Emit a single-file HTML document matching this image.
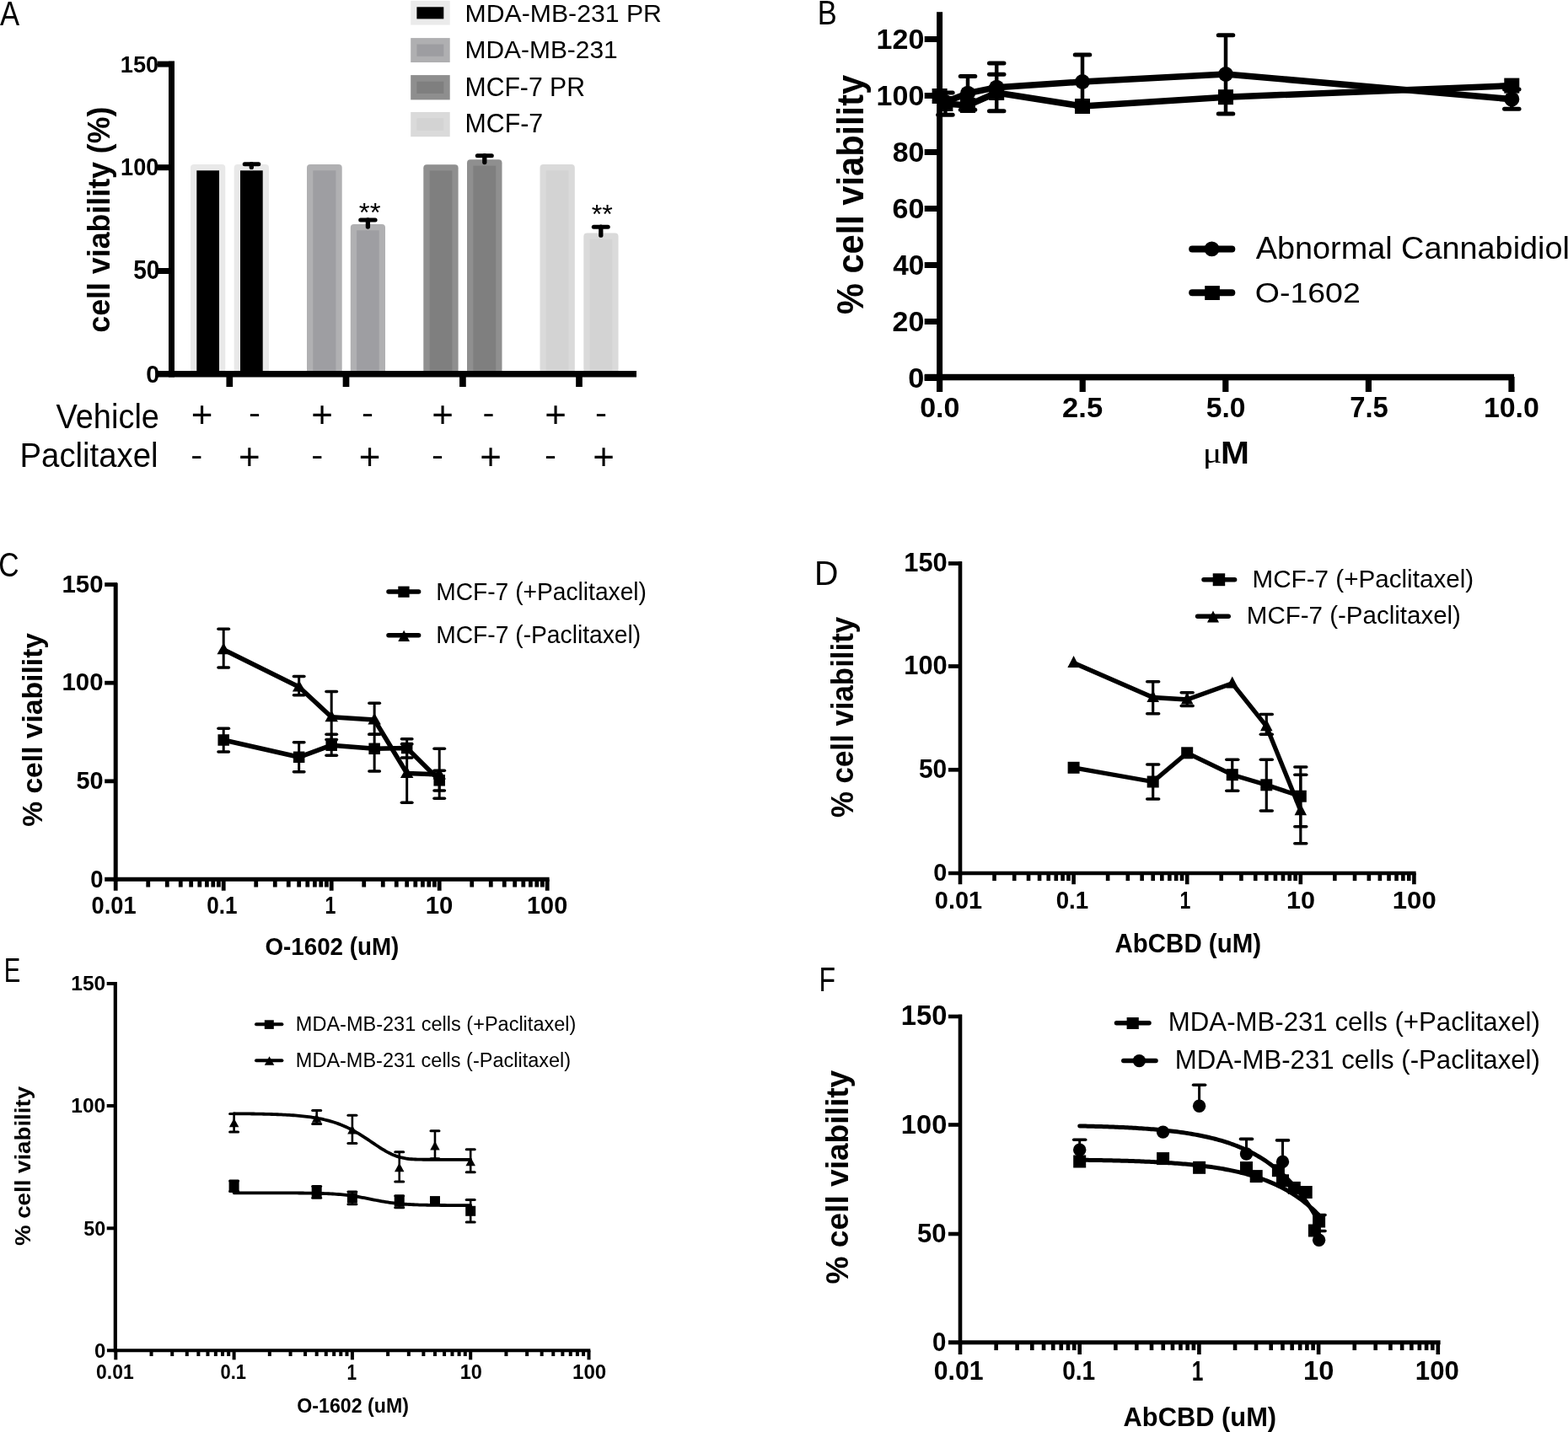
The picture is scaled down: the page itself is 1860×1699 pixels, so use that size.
<!DOCTYPE html>
<html><head><meta charset="utf-8"><title>Figure</title>
<style>html,body{margin:0;padding:0;background:#fff;}svg{display:block;}</style></head>
<body><svg width="1860" height="1699" viewBox="0 0 1860 1699">
<rect width="1860" height="1699" fill="#fff"/>
<text transform="translate(-0.09,30.1) scale(0.8555,1)" font-family="'Liberation Sans', Arial, sans-serif" font-weight="normal" font-size="40.58">A</text>
<rect x="487.2" y="0.9" width="46.5" height="28.7" fill="#ebebeb"/>
<rect x="494.4" y="8.3" width="31.9" height="14.1" fill="#000"/>
<rect x="487.2" y="45.1" width="46.5" height="28.9" fill="#afafb1"/>
<rect x="494.4" y="52.5" width="31.9" height="14.3" fill="#9d9da1"/>
<rect x="487.2" y="89.1" width="46.5" height="29.3" fill="#8e8e8e"/>
<rect x="494.4" y="96.7" width="31.9" height="14.3" fill="#7f7f7f"/>
<rect x="487.2" y="133" width="46.5" height="29.2" fill="#dadada"/>
<rect x="494.4" y="140.2" width="31.9" height="14.6" fill="#d3d3d3"/>
<text transform="translate(551.5,25.5) scale(1.0045,1)" font-family="'Liberation Sans', Arial, sans-serif" font-weight="normal" font-size="30.11">MDA-MB-231 PR</text>
<text transform="translate(551.53,69.3) scale(0.9987,1)" font-family="'Liberation Sans', Arial, sans-serif" font-weight="normal" font-size="29.96">MDA-MB-231</text>
<text transform="translate(551.51,113.6) scale(0.9780,1)" font-family="'Liberation Sans', Arial, sans-serif" font-weight="normal" font-size="30.84">MCF-7 PR</text>
<text transform="translate(551.5,157.4) scale(0.9925,1)" font-family="'Liberation Sans', Arial, sans-serif" font-weight="normal" font-size="30.55">MCF-7</text>
<path d="M226 441 L226 199 Q226 195 230 195 L263.3 195 Q267.3 195 267.3 199 L267.3 441 Z" fill="#e9e9e9"/>
<rect x="233.3" y="202.3" width="26.7" height="238.7" fill="#000"/>
<path d="M277.7 441 L277.7 199 Q277.7 195 281.7 195 L315 195 Q319 195 319 199 L319 441 Z" fill="#e9e9e9"/>
<rect x="285" y="202.3" width="26.7" height="238.7" fill="#000"/>
<path d="M364 441 L364 199 Q364 195 368 195 L401.7 195 Q405.7 195 405.7 199 L405.7 441 Z" fill="#b0b0b2"/>
<rect x="371.3" y="202.3" width="27.1" height="238.7" fill="#9e9ea2"/>
<path d="M415.8 441 L415.8 270 Q415.8 266 419.8 266 L453 266 Q457 266 457 270 L457 441 Z" fill="#b0b0b2"/>
<rect x="423.1" y="273.3" width="26.6" height="167.7" fill="#9e9ea2"/>
<path d="M502.3 441 L502.3 199.2 Q502.3 195.2 506.3 195.2 L539.6 195.2 Q543.6 195.2 543.6 199.2 L543.6 441 Z" fill="#8f8f8f"/>
<rect x="509.6" y="202.5" width="26.7" height="238.5" fill="#7f7f7f"/>
<path d="M554 441 L554 193.3 Q554 189.3 558 189.3 L591.5 189.3 Q595.5 189.3 595.5 193.3 L595.5 441 Z" fill="#8f8f8f"/>
<rect x="561.3" y="196.6" width="26.9" height="244.4" fill="#7f7f7f"/>
<path d="M640.5 441 L640.5 199 Q640.5 195 644.5 195 L677.8 195 Q681.8 195 681.8 199 L681.8 441 Z" fill="#dadada"/>
<rect x="647.8" y="202.3" width="26.7" height="238.7" fill="#d3d3d3"/>
<path d="M692.3 441 L692.3 280.5 Q692.3 276.5 696.3 276.5 L729.5 276.5 Q733.5 276.5 733.5 280.5 L733.5 441 Z" fill="#dadada"/>
<rect x="699.6" y="283.8" width="26.6" height="157.2" fill="#d3d3d3"/>
<line x1="298.3" y1="194.7" x2="298.3" y2="198.4" stroke="#000" stroke-width="5.3" stroke-linecap="round"/>
<line x1="290.2" y1="194.7" x2="306.8" y2="194.7" stroke="#000" stroke-width="5" stroke-linecap="round"/>
<line x1="436.4" y1="261" x2="436.4" y2="269.1" stroke="#000" stroke-width="5.3" stroke-linecap="round"/>
<line x1="427.7" y1="261" x2="445.1" y2="261" stroke="#000" stroke-width="5" stroke-linecap="round"/>
<line x1="574.8" y1="184.7" x2="574.8" y2="192.6" stroke="#000" stroke-width="5.3" stroke-linecap="round"/>
<line x1="566.3" y1="184.7" x2="583.3" y2="184.7" stroke="#000" stroke-width="5" stroke-linecap="round"/>
<line x1="712.8" y1="269.2" x2="712.8" y2="279.2" stroke="#000" stroke-width="5.3" stroke-linecap="round"/>
<line x1="704.3" y1="269.2" x2="721.2" y2="269.2" stroke="#000" stroke-width="5" stroke-linecap="round"/>
<text transform="translate(425.82,262.71) scale(1.0603,1)" font-family="'Liberation Sans', Arial, sans-serif" font-weight="normal" font-size="31.14">**</text>
<text transform="translate(701.64,264.7) scale(1.0067,1)" font-family="'Liberation Sans', Arial, sans-serif" font-weight="normal" font-size="32">**</text>
<rect x="200" y="72.7" width="7" height="374.8" fill="#000"/>
<rect x="187" y="72.6" width="20" height="7" fill="#000"/>
<rect x="187" y="195.2" width="20" height="7" fill="#000"/>
<rect x="187" y="318" width="20" height="7" fill="#000"/>
<rect x="187" y="440" width="568" height="7.5" fill="#000"/>
<rect x="268.45" y="447" width="7.7" height="12" fill="#000"/>
<rect x="406.65" y="447" width="7.7" height="12" fill="#000"/>
<rect x="545.05" y="447" width="7.7" height="12" fill="#000"/>
<rect x="683.15" y="447" width="7.7" height="12" fill="#000"/>
<text transform="translate(142.8,85.72) scale(0.9726,1)" font-family="'Liberation Sans', Arial, sans-serif" font-weight="bold" font-size="27.99">150</text>
<text transform="translate(143.11,208.41) scale(0.9396,1)" font-family="'Liberation Sans', Arial, sans-serif" font-weight="bold" font-size="28.83">100</text>
<text transform="translate(158.16,331.49) scale(0.9112,1)" font-family="'Liberation Sans', Arial, sans-serif" font-weight="bold" font-size="30.81">50</text>
<text transform="translate(173.35,453.9) scale(0.9625,1)" font-family="'Liberation Sans', Arial, sans-serif" font-weight="bold" font-size="29.96">0</text>
<text transform="translate(129.71,394.73) rotate(-90) scale(0.9776,1)" font-family="'Liberation Sans', Arial, sans-serif" font-weight="bold" font-size="36.57">cell viability (%)</text>
<text transform="translate(66.51,507.7) scale(0.9427,1)" font-family="'Liberation Sans', Arial, sans-serif" font-weight="normal" font-size="40.29">Vehicle</text>
<text transform="translate(23.54,554.3) scale(0.9548,1)" font-family="'Liberation Sans', Arial, sans-serif" font-weight="normal" font-size="40.15">Paclitaxel</text>
<text transform="translate(226.65,507.43) scale(0.9782,1)" font-family="'Liberation Sans', Arial, sans-serif" font-weight="normal" font-size="44.9">+</text>
<text transform="translate(295.01,502.36) scale(1.1241,1)" font-family="'Liberation Sans', Arial, sans-serif" font-weight="normal" font-size="37.42">-</text>
<text transform="translate(369.15,507.43) scale(0.9782,1)" font-family="'Liberation Sans', Arial, sans-serif" font-weight="normal" font-size="44.9">+</text>
<text transform="translate(429.01,502.36) scale(1.1241,1)" font-family="'Liberation Sans', Arial, sans-serif" font-weight="normal" font-size="37.42">-</text>
<text transform="translate(512.15,507.43) scale(0.9782,1)" font-family="'Liberation Sans', Arial, sans-serif" font-weight="normal" font-size="44.9">+</text>
<text transform="translate(572.51,502.36) scale(1.1241,1)" font-family="'Liberation Sans', Arial, sans-serif" font-weight="normal" font-size="37.42">-</text>
<text transform="translate(646.15,507.43) scale(0.9782,1)" font-family="'Liberation Sans', Arial, sans-serif" font-weight="normal" font-size="44.9">+</text>
<text transform="translate(706.01,502.36) scale(1.1241,1)" font-family="'Liberation Sans', Arial, sans-serif" font-weight="normal" font-size="37.42">-</text>
<text transform="translate(226.31,551.86) scale(1.1241,1)" font-family="'Liberation Sans', Arial, sans-serif" font-weight="normal" font-size="37.42">-</text>
<text transform="translate(283.05,556.89) scale(0.9871,1)" font-family="'Liberation Sans', Arial, sans-serif" font-weight="normal" font-size="44.49">+</text>
<text transform="translate(369.31,551.86) scale(1.1241,1)" font-family="'Liberation Sans', Arial, sans-serif" font-weight="normal" font-size="37.42">-</text>
<text transform="translate(425.65,556.89) scale(0.9871,1)" font-family="'Liberation Sans', Arial, sans-serif" font-weight="normal" font-size="44.49">+</text>
<text transform="translate(512.01,551.86) scale(1.1241,1)" font-family="'Liberation Sans', Arial, sans-serif" font-weight="normal" font-size="37.42">-</text>
<text transform="translate(569.15,556.89) scale(0.9871,1)" font-family="'Liberation Sans', Arial, sans-serif" font-weight="normal" font-size="44.49">+</text>
<text transform="translate(646.01,551.86) scale(1.1241,1)" font-family="'Liberation Sans', Arial, sans-serif" font-weight="normal" font-size="37.42">-</text>
<text transform="translate(703.15,556.89) scale(0.9871,1)" font-family="'Liberation Sans', Arial, sans-serif" font-weight="normal" font-size="44.49">+</text>
<text transform="translate(969.76,29.2) scale(0.8468,1)" font-family="'Liberation Sans', Arial, sans-serif" font-weight="normal" font-size="40.58">B</text>
<rect x="1111.1" y="14.2" width="7" height="437.1" fill="#000"/>
<rect x="1096.7" y="445" width="21.3" height="7" fill="#000"/>
<rect x="1096.7" y="378" width="21.3" height="7" fill="#000"/>
<rect x="1096.7" y="311" width="21.3" height="7" fill="#000"/>
<rect x="1096.7" y="244" width="21.3" height="7" fill="#000"/>
<rect x="1096.7" y="177" width="21.3" height="7" fill="#000"/>
<rect x="1096.7" y="110" width="21.3" height="7" fill="#000"/>
<rect x="1096.7" y="43" width="21.3" height="7" fill="#000"/>
<rect x="1096.7" y="443.8" width="699.3" height="7.5" fill="#000"/>
<rect x="1111" y="447" width="7.2" height="18" fill="#000"/>
<rect x="1280.6" y="447" width="7.2" height="18" fill="#000"/>
<rect x="1450.2" y="447" width="7.2" height="18" fill="#000"/>
<rect x="1619.8" y="447" width="7.2" height="18" fill="#000"/>
<rect x="1789.4" y="447" width="7.2" height="18" fill="#000"/>
<text transform="translate(1039.57,58.06) scale(1.0124,1)" font-family="'Liberation Sans', Arial, sans-serif" font-weight="bold" font-size="33.64">120</text>
<text transform="translate(1039.57,125.06) scale(1.0124,1)" font-family="'Liberation Sans', Arial, sans-serif" font-weight="bold" font-size="33.64">100</text>
<text transform="translate(1058.7,192.06) scale(1.0086,1)" font-family="'Liberation Sans', Arial, sans-serif" font-weight="bold" font-size="33.64">80</text>
<text transform="translate(1058.52,259.06) scale(1.0134,1)" font-family="'Liberation Sans', Arial, sans-serif" font-weight="bold" font-size="33.64">60</text>
<text transform="translate(1059.3,326.06) scale(0.9918,1)" font-family="'Liberation Sans', Arial, sans-serif" font-weight="bold" font-size="33.64">40</text>
<text transform="translate(1058.61,393.06) scale(1.0110,1)" font-family="'Liberation Sans', Arial, sans-serif" font-weight="bold" font-size="33.64">20</text>
<text transform="translate(1077.33,460.06) scale(1.0201,1)" font-family="'Liberation Sans', Arial, sans-serif" font-weight="bold" font-size="33.64">0</text>
<text transform="translate(1091.14,495.06) scale(1.0014,1)" font-family="'Liberation Sans', Arial, sans-serif" font-weight="bold" font-size="33.92">0.0</text>
<text transform="translate(1260.09,495.06) scale(1.0193,1)" font-family="'Liberation Sans', Arial, sans-serif" font-weight="bold" font-size="33.92">2.5</text>
<text transform="translate(1430.69,495.06) scale(0.9916,1)" font-family="'Liberation Sans', Arial, sans-serif" font-weight="bold" font-size="33.92">5.0</text>
<text transform="translate(1601.2,495.06) scale(0.9555,1)" font-family="'Liberation Sans', Arial, sans-serif" font-weight="bold" font-size="34.41">7.5</text>
<text transform="translate(1759.88,495.06) scale(1.0000,1)" font-family="'Liberation Sans', Arial, sans-serif" font-weight="bold" font-size="33.92">10.0</text>
<text transform="translate(1426.83,549.38) scale(1.2216,1)" font-family="'Liberation Serif', 'Times New Roman', serif" font-weight="normal" font-size="34.52">μ</text>
<text transform="translate(1448.05,550.3) scale(1.0850,1)" font-family="'Liberation Sans', Arial, sans-serif" font-weight="bold" font-size="37.53">M</text>
<text transform="translate(1023.65,373.04) rotate(-90) scale(0.9233,1)" font-family="'Liberation Sans', Arial, sans-serif" font-weight="bold" font-size="45.04">% cell viability</text>
<line x1="1121.4" y1="110" x2="1121.4" y2="136.3" stroke="#000" stroke-width="4.5" stroke-linecap="butt"/>
<line x1="1112.65" y1="110" x2="1130.15" y2="110" stroke="#000" stroke-width="5" stroke-linecap="round"/>
<line x1="1112.65" y1="136.3" x2="1130.15" y2="136.3" stroke="#000" stroke-width="5" stroke-linecap="round"/>
<line x1="1148" y1="90.4" x2="1148" y2="130.3" stroke="#000" stroke-width="4.5" stroke-linecap="butt"/>
<line x1="1139.25" y1="90.4" x2="1156.75" y2="90.4" stroke="#000" stroke-width="5" stroke-linecap="round"/>
<line x1="1139.25" y1="130.3" x2="1156.75" y2="130.3" stroke="#000" stroke-width="5" stroke-linecap="round"/>
<line x1="1182.2" y1="75" x2="1182.2" y2="131.7" stroke="#000" stroke-width="4.5" stroke-linecap="butt"/>
<line x1="1173.45" y1="75" x2="1190.95" y2="75" stroke="#000" stroke-width="5" stroke-linecap="round"/>
<line x1="1173.45" y1="131.7" x2="1190.95" y2="131.7" stroke="#000" stroke-width="5" stroke-linecap="round"/>
<line x1="1173.45" y1="88.3" x2="1190.95" y2="88.3" stroke="#000" stroke-width="5" stroke-linecap="round"/>
<line x1="1284" y1="65" x2="1284" y2="126" stroke="#000" stroke-width="4.5" stroke-linecap="butt"/>
<line x1="1275.25" y1="65" x2="1292.75" y2="65" stroke="#000" stroke-width="5" stroke-linecap="round"/>
<line x1="1275.25" y1="126" x2="1292.75" y2="126" stroke="#000" stroke-width="5" stroke-linecap="round"/>
<line x1="1454" y1="41.8" x2="1454" y2="135" stroke="#000" stroke-width="4.5" stroke-linecap="butt"/>
<line x1="1445.25" y1="41.8" x2="1462.75" y2="41.8" stroke="#000" stroke-width="5" stroke-linecap="round"/>
<line x1="1445.25" y1="135" x2="1462.75" y2="135" stroke="#000" stroke-width="5" stroke-linecap="round"/>
<line x1="1793.3" y1="106" x2="1793.3" y2="129.3" stroke="#000" stroke-width="4.5" stroke-linecap="butt"/>
<line x1="1784.55" y1="106" x2="1802.05" y2="106" stroke="#000" stroke-width="5" stroke-linecap="round"/>
<line x1="1784.55" y1="129.3" x2="1802.05" y2="129.3" stroke="#000" stroke-width="5" stroke-linecap="round"/>
<path d="M1114.6 114 L1121.4 121 L1148 110.7 L1182.2 103.7 L1284 97 L1454 88 L1793.3 117.7" fill="none" stroke="#000" stroke-width="7.5" stroke-linejoin="round" stroke-linecap="round"/>
<path d="M1114.6 114 L1121.4 123 L1148 125 L1182.2 110 L1284 126 L1454 115.2 L1793.3 101.6" fill="none" stroke="#000" stroke-width="7.5" stroke-linejoin="round" stroke-linecap="round"/>
<circle cx="1114.6" cy="114" r="9" fill="#000"/>
<circle cx="1121.4" cy="121" r="9" fill="#000"/>
<circle cx="1148" cy="110.7" r="9" fill="#000"/>
<circle cx="1182.2" cy="103.7" r="9" fill="#000"/>
<circle cx="1284" cy="97" r="9" fill="#000"/>
<circle cx="1454" cy="88" r="9" fill="#000"/>
<circle cx="1793.3" cy="117.7" r="9" fill="#000"/>
<rect x="1105.6" y="105" width="18" height="18" fill="#000"/>
<rect x="1112.4" y="114" width="18" height="18" fill="#000"/>
<rect x="1139" y="116" width="18" height="18" fill="#000"/>
<rect x="1173.2" y="101" width="18" height="18" fill="#000"/>
<rect x="1275" y="117" width="18" height="18" fill="#000"/>
<rect x="1445" y="106.2" width="18" height="18" fill="#000"/>
<rect x="1784.3" y="92.6" width="18" height="18" fill="#000"/>
<line x1="1414.2" y1="295.4" x2="1461.3" y2="295.4" stroke="#000" stroke-width="8" stroke-linecap="round"/>
<circle cx="1437.5" cy="295.4" r="8.9" fill="#000"/>
<line x1="1414.2" y1="347.2" x2="1461.3" y2="347.2" stroke="#000" stroke-width="8" stroke-linecap="round"/>
<rect x="1429.2" y="339.1" width="17.7" height="16.9" fill="#000"/>
<text transform="translate(1489.71,306.8) scale(1.0283,1)" font-family="'Liberation Sans', Arial, sans-serif" font-weight="normal" font-size="36.8">Abnormal Cannabidiol</text>
<text transform="translate(1488.82,358.96) scale(1.1138,1)" font-family="'Liberation Sans', Arial, sans-serif" font-weight="normal" font-size="33.64">O-1602</text>
<text transform="translate(-1.68,683.79) scale(0.8159,1)" font-family="'Liberation Sans', Arial, sans-serif" font-weight="normal" font-size="41.27">C</text>
<rect x="134.7" y="691.7" width="5" height="354.1" fill="#000"/>
<rect x="124.2" y="691.15" width="14.8" height="4.8" fill="#000"/>
<rect x="124.2" y="807.8" width="14.8" height="4.8" fill="#000"/>
<rect x="124.2" y="924.45" width="14.8" height="4.8" fill="#000"/>
<line x1="124.2" y1="1043.3" x2="651.6" y2="1043.3" stroke="#000" stroke-width="5" stroke-linecap="butt"/>
<line x1="137.2" y1="1043.3" x2="137.2" y2="1056.7" stroke="#000" stroke-width="4.8" stroke-linecap="butt"/>
<line x1="175.73" y1="1043.3" x2="175.73" y2="1052.5" stroke="#000" stroke-width="4.8" stroke-linecap="butt"/>
<line x1="198.27" y1="1043.3" x2="198.27" y2="1052.5" stroke="#000" stroke-width="4.8" stroke-linecap="butt"/>
<line x1="214.26" y1="1043.3" x2="214.26" y2="1052.5" stroke="#000" stroke-width="4.8" stroke-linecap="butt"/>
<line x1="226.67" y1="1043.3" x2="226.67" y2="1052.5" stroke="#000" stroke-width="4.8" stroke-linecap="butt"/>
<line x1="236.8" y1="1043.3" x2="236.8" y2="1052.5" stroke="#000" stroke-width="4.8" stroke-linecap="butt"/>
<line x1="245.37" y1="1043.3" x2="245.37" y2="1052.5" stroke="#000" stroke-width="4.8" stroke-linecap="butt"/>
<line x1="252.8" y1="1043.3" x2="252.8" y2="1052.5" stroke="#000" stroke-width="4.8" stroke-linecap="butt"/>
<line x1="259.34" y1="1043.3" x2="259.34" y2="1052.5" stroke="#000" stroke-width="4.8" stroke-linecap="butt"/>
<line x1="265.2" y1="1043.3" x2="265.2" y2="1056.7" stroke="#000" stroke-width="4.8" stroke-linecap="butt"/>
<line x1="303.73" y1="1043.3" x2="303.73" y2="1052.5" stroke="#000" stroke-width="4.8" stroke-linecap="butt"/>
<line x1="326.27" y1="1043.3" x2="326.27" y2="1052.5" stroke="#000" stroke-width="4.8" stroke-linecap="butt"/>
<line x1="342.26" y1="1043.3" x2="342.26" y2="1052.5" stroke="#000" stroke-width="4.8" stroke-linecap="butt"/>
<line x1="354.67" y1="1043.3" x2="354.67" y2="1052.5" stroke="#000" stroke-width="4.8" stroke-linecap="butt"/>
<line x1="364.8" y1="1043.3" x2="364.8" y2="1052.5" stroke="#000" stroke-width="4.8" stroke-linecap="butt"/>
<line x1="373.37" y1="1043.3" x2="373.37" y2="1052.5" stroke="#000" stroke-width="4.8" stroke-linecap="butt"/>
<line x1="380.8" y1="1043.3" x2="380.8" y2="1052.5" stroke="#000" stroke-width="4.8" stroke-linecap="butt"/>
<line x1="387.34" y1="1043.3" x2="387.34" y2="1052.5" stroke="#000" stroke-width="4.8" stroke-linecap="butt"/>
<line x1="393.2" y1="1043.3" x2="393.2" y2="1056.7" stroke="#000" stroke-width="4.8" stroke-linecap="butt"/>
<line x1="431.73" y1="1043.3" x2="431.73" y2="1052.5" stroke="#000" stroke-width="4.8" stroke-linecap="butt"/>
<line x1="454.27" y1="1043.3" x2="454.27" y2="1052.5" stroke="#000" stroke-width="4.8" stroke-linecap="butt"/>
<line x1="470.26" y1="1043.3" x2="470.26" y2="1052.5" stroke="#000" stroke-width="4.8" stroke-linecap="butt"/>
<line x1="482.67" y1="1043.3" x2="482.67" y2="1052.5" stroke="#000" stroke-width="4.8" stroke-linecap="butt"/>
<line x1="492.8" y1="1043.3" x2="492.8" y2="1052.5" stroke="#000" stroke-width="4.8" stroke-linecap="butt"/>
<line x1="501.37" y1="1043.3" x2="501.37" y2="1052.5" stroke="#000" stroke-width="4.8" stroke-linecap="butt"/>
<line x1="508.8" y1="1043.3" x2="508.8" y2="1052.5" stroke="#000" stroke-width="4.8" stroke-linecap="butt"/>
<line x1="515.34" y1="1043.3" x2="515.34" y2="1052.5" stroke="#000" stroke-width="4.8" stroke-linecap="butt"/>
<line x1="521.2" y1="1043.3" x2="521.2" y2="1056.7" stroke="#000" stroke-width="4.8" stroke-linecap="butt"/>
<line x1="559.73" y1="1043.3" x2="559.73" y2="1052.5" stroke="#000" stroke-width="4.8" stroke-linecap="butt"/>
<line x1="582.27" y1="1043.3" x2="582.27" y2="1052.5" stroke="#000" stroke-width="4.8" stroke-linecap="butt"/>
<line x1="598.26" y1="1043.3" x2="598.26" y2="1052.5" stroke="#000" stroke-width="4.8" stroke-linecap="butt"/>
<line x1="610.67" y1="1043.3" x2="610.67" y2="1052.5" stroke="#000" stroke-width="4.8" stroke-linecap="butt"/>
<line x1="620.8" y1="1043.3" x2="620.8" y2="1052.5" stroke="#000" stroke-width="4.8" stroke-linecap="butt"/>
<line x1="629.37" y1="1043.3" x2="629.37" y2="1052.5" stroke="#000" stroke-width="4.8" stroke-linecap="butt"/>
<line x1="636.8" y1="1043.3" x2="636.8" y2="1052.5" stroke="#000" stroke-width="4.8" stroke-linecap="butt"/>
<line x1="643.34" y1="1043.3" x2="643.34" y2="1052.5" stroke="#000" stroke-width="4.8" stroke-linecap="butt"/>
<line x1="649.2" y1="1043.3" x2="649.2" y2="1056.7" stroke="#000" stroke-width="4.8" stroke-linecap="butt"/>
<text transform="translate(73.46,703.01) scale(0.9998,1)" font-family="'Liberation Sans', Arial, sans-serif" font-weight="bold" font-size="29.4">150</text>
<text transform="translate(73.46,819.41) scale(1.0046,1)" font-family="'Liberation Sans', Arial, sans-serif" font-weight="bold" font-size="29.26">100</text>
<text transform="translate(90.43,936.01) scale(0.9955,1)" font-family="'Liberation Sans', Arial, sans-serif" font-weight="bold" font-size="28.98">50</text>
<text transform="translate(107.21,1052.7) scale(0.9091,1)" font-family="'Liberation Sans', Arial, sans-serif" font-weight="bold" font-size="30.11">0</text>
<text transform="translate(108.61,1083.91) scale(0.9302,1)" font-family="'Liberation Sans', Arial, sans-serif" font-weight="bold" font-size="29.26">0.01</text>
<text transform="translate(245.26,1083.91) scale(0.8916,1)" font-family="'Liberation Sans', Arial, sans-serif" font-weight="bold" font-size="29.26">0.1</text>
<text transform="translate(385.55,1084.2) scale(0.7714,1)" font-family="'Liberation Sans', Arial, sans-serif" font-weight="bold" font-size="30.11">1</text>
<text transform="translate(504.66,1083.91) scale(1.0042,1)" font-family="'Liberation Sans', Arial, sans-serif" font-weight="bold" font-size="29.26">10</text>
<text transform="translate(625.1,1083.91) scale(0.9850,1)" font-family="'Liberation Sans', Arial, sans-serif" font-weight="bold" font-size="29.26">100</text>
<text transform="translate(314.39,1132.8) scale(0.9551,1)" font-family="'Liberation Sans', Arial, sans-serif" font-weight="bold" font-size="29.09">O-1602 (uM)</text>
<text transform="translate(50.45,980.84) rotate(-90) scale(0.9899,1)" font-family="'Liberation Sans', Arial, sans-serif" font-weight="bold" font-size="33.99">% cell viability</text>
<line x1="265.2" y1="746.3" x2="265.2" y2="792" stroke="#000" stroke-width="3" stroke-linecap="butt"/>
<line x1="259" y1="746.3" x2="271.4" y2="746.3" stroke="#000" stroke-width="3.6" stroke-linecap="round"/>
<line x1="259" y1="792" x2="271.4" y2="792" stroke="#000" stroke-width="3.6" stroke-linecap="round"/>
<line x1="354.67" y1="802.5" x2="354.67" y2="824.7" stroke="#000" stroke-width="3" stroke-linecap="butt"/>
<line x1="348.47" y1="802.5" x2="360.87" y2="802.5" stroke="#000" stroke-width="3.6" stroke-linecap="round"/>
<line x1="348.47" y1="824.7" x2="360.87" y2="824.7" stroke="#000" stroke-width="3.6" stroke-linecap="round"/>
<line x1="393.2" y1="820.5" x2="393.2" y2="877.5" stroke="#000" stroke-width="3" stroke-linecap="butt"/>
<line x1="387" y1="820.5" x2="399.4" y2="820.5" stroke="#000" stroke-width="3.6" stroke-linecap="round"/>
<line x1="387" y1="877.5" x2="399.4" y2="877.5" stroke="#000" stroke-width="3.6" stroke-linecap="round"/>
<line x1="444.14" y1="834.2" x2="444.14" y2="871.3" stroke="#000" stroke-width="3" stroke-linecap="butt"/>
<line x1="437.94" y1="834.2" x2="450.34" y2="834.2" stroke="#000" stroke-width="3.6" stroke-linecap="round"/>
<line x1="437.94" y1="871.3" x2="450.34" y2="871.3" stroke="#000" stroke-width="3.6" stroke-linecap="round"/>
<line x1="482.67" y1="882.8" x2="482.67" y2="952.2" stroke="#000" stroke-width="3" stroke-linecap="butt"/>
<line x1="476.47" y1="882.8" x2="488.87" y2="882.8" stroke="#000" stroke-width="3.6" stroke-linecap="round"/>
<line x1="476.47" y1="952.2" x2="488.87" y2="952.2" stroke="#000" stroke-width="3.6" stroke-linecap="round"/>
<line x1="521.2" y1="888.3" x2="521.2" y2="947.2" stroke="#000" stroke-width="3" stroke-linecap="butt"/>
<line x1="515" y1="888.3" x2="527.4" y2="888.3" stroke="#000" stroke-width="3.6" stroke-linecap="round"/>
<line x1="515" y1="947.2" x2="527.4" y2="947.2" stroke="#000" stroke-width="3.6" stroke-linecap="round"/>
<line x1="265.2" y1="864.2" x2="265.2" y2="892" stroke="#000" stroke-width="3" stroke-linecap="butt"/>
<line x1="259" y1="864.2" x2="271.4" y2="864.2" stroke="#000" stroke-width="3.6" stroke-linecap="round"/>
<line x1="259" y1="892" x2="271.4" y2="892" stroke="#000" stroke-width="3.6" stroke-linecap="round"/>
<line x1="354.67" y1="880.8" x2="354.67" y2="915.8" stroke="#000" stroke-width="3" stroke-linecap="butt"/>
<line x1="348.47" y1="880.8" x2="360.87" y2="880.8" stroke="#000" stroke-width="3.6" stroke-linecap="round"/>
<line x1="348.47" y1="915.8" x2="360.87" y2="915.8" stroke="#000" stroke-width="3.6" stroke-linecap="round"/>
<line x1="393.2" y1="871.3" x2="393.2" y2="896.3" stroke="#000" stroke-width="3" stroke-linecap="butt"/>
<line x1="387" y1="871.3" x2="399.4" y2="871.3" stroke="#000" stroke-width="3.6" stroke-linecap="round"/>
<line x1="387" y1="896.3" x2="399.4" y2="896.3" stroke="#000" stroke-width="3.6" stroke-linecap="round"/>
<line x1="444.14" y1="871.3" x2="444.14" y2="915" stroke="#000" stroke-width="3" stroke-linecap="butt"/>
<line x1="437.94" y1="871.3" x2="450.34" y2="871.3" stroke="#000" stroke-width="3.6" stroke-linecap="round"/>
<line x1="437.94" y1="915" x2="450.34" y2="915" stroke="#000" stroke-width="3.6" stroke-linecap="round"/>
<line x1="482.67" y1="876.7" x2="482.67" y2="899" stroke="#000" stroke-width="3" stroke-linecap="butt"/>
<line x1="476.47" y1="876.7" x2="488.87" y2="876.7" stroke="#000" stroke-width="3.6" stroke-linecap="round"/>
<line x1="476.47" y1="899" x2="488.87" y2="899" stroke="#000" stroke-width="3.6" stroke-linecap="round"/>
<line x1="521.2" y1="914.2" x2="521.2" y2="938" stroke="#000" stroke-width="3" stroke-linecap="butt"/>
<line x1="515" y1="914.2" x2="527.4" y2="914.2" stroke="#000" stroke-width="3.6" stroke-linecap="round"/>
<line x1="515" y1="938" x2="527.4" y2="938" stroke="#000" stroke-width="3.6" stroke-linecap="round"/>
<path d="M265.2 770.8 L354.67 815 L393.2 850.8 L444.14 854 L482.67 917.5 L521.2 919" fill="none" stroke="#000" stroke-width="5.5" stroke-linejoin="round" stroke-linecap="round"/>
<path d="M265.2 878 L354.67 898.3 L393.2 884.2 L444.14 888.3 L482.67 887.5 L521.2 925.8" fill="none" stroke="#000" stroke-width="5.5" stroke-linejoin="round" stroke-linecap="round"/>
<path d="M265.2 762.7 L272.95 776.2 L257.45 776.2 Z" fill="#000"/>
<path d="M354.67 806.9 L362.42 820.4 L346.92 820.4 Z" fill="#000"/>
<path d="M393.2 842.7 L400.95 856.2 L385.45 856.2 Z" fill="#000"/>
<path d="M444.14 845.9 L451.89 859.4 L436.39 859.4 Z" fill="#000"/>
<path d="M482.67 909.4 L490.42 922.9 L474.92 922.9 Z" fill="#000"/>
<path d="M521.2 910.9 L528.95 924.4 L513.45 924.4 Z" fill="#000"/>
<rect x="258.45" y="871.25" width="13.5" height="13.5" fill="#000"/>
<rect x="347.92" y="891.55" width="13.5" height="13.5" fill="#000"/>
<rect x="386.45" y="877.45" width="13.5" height="13.5" fill="#000"/>
<rect x="437.39" y="881.55" width="13.5" height="13.5" fill="#000"/>
<rect x="475.92" y="880.75" width="13.5" height="13.5" fill="#000"/>
<rect x="514.45" y="919.05" width="13.5" height="13.5" fill="#000"/>
<line x1="461" y1="702" x2="496.6" y2="702" stroke="#000" stroke-width="5.5" stroke-linecap="round"/>
<rect x="472.3" y="695.6" width="13.3" height="13.2" fill="#000"/>
<line x1="461" y1="753.7" x2="496.6" y2="753.7" stroke="#000" stroke-width="5.5" stroke-linecap="round"/>
<path d="M479.15 747.7 L486 760.9 L472.3 760.9 Z"/>
<text transform="translate(517.17,711.7) scale(0.9368,1)" font-family="'Liberation Sans', Arial, sans-serif" font-weight="normal" font-size="30.11">MCF-7 (+Paclitaxel)</text>
<text transform="translate(517.17,763.2) scale(0.9378,1)" font-family="'Liberation Sans', Arial, sans-serif" font-weight="normal" font-size="30.11">MCF-7 (-Paclitaxel)</text>
<text transform="translate(965.96,694.2) scale(0.9520,1)" font-family="'Liberation Sans', Arial, sans-serif" font-weight="normal" font-size="41.31">D</text>
<rect x="1136.7" y="666.2" width="4.6" height="372.1" fill="#000"/>
<rect x="1125" y="666.15" width="16" height="4.7" fill="#000"/>
<rect x="1125" y="788.15" width="16" height="4.7" fill="#000"/>
<rect x="1125" y="910.95" width="16" height="4.7" fill="#000"/>
<line x1="1125" y1="1036" x2="1679.6" y2="1036" stroke="#000" stroke-width="4.7" stroke-linecap="butt"/>
<line x1="1139" y1="1036" x2="1139" y2="1049.2" stroke="#000" stroke-width="4.6" stroke-linecap="butt"/>
<line x1="1179.52" y1="1036" x2="1179.52" y2="1045" stroke="#000" stroke-width="4.6" stroke-linecap="butt"/>
<line x1="1203.22" y1="1036" x2="1203.22" y2="1045" stroke="#000" stroke-width="4.6" stroke-linecap="butt"/>
<line x1="1220.04" y1="1036" x2="1220.04" y2="1045" stroke="#000" stroke-width="4.6" stroke-linecap="butt"/>
<line x1="1233.08" y1="1036" x2="1233.08" y2="1045" stroke="#000" stroke-width="4.6" stroke-linecap="butt"/>
<line x1="1243.74" y1="1036" x2="1243.74" y2="1045" stroke="#000" stroke-width="4.6" stroke-linecap="butt"/>
<line x1="1252.75" y1="1036" x2="1252.75" y2="1045" stroke="#000" stroke-width="4.6" stroke-linecap="butt"/>
<line x1="1260.56" y1="1036" x2="1260.56" y2="1045" stroke="#000" stroke-width="4.6" stroke-linecap="butt"/>
<line x1="1267.44" y1="1036" x2="1267.44" y2="1045" stroke="#000" stroke-width="4.6" stroke-linecap="butt"/>
<line x1="1273.6" y1="1036" x2="1273.6" y2="1049.2" stroke="#000" stroke-width="4.6" stroke-linecap="butt"/>
<line x1="1314.12" y1="1036" x2="1314.12" y2="1045" stroke="#000" stroke-width="4.6" stroke-linecap="butt"/>
<line x1="1337.82" y1="1036" x2="1337.82" y2="1045" stroke="#000" stroke-width="4.6" stroke-linecap="butt"/>
<line x1="1354.64" y1="1036" x2="1354.64" y2="1045" stroke="#000" stroke-width="4.6" stroke-linecap="butt"/>
<line x1="1367.68" y1="1036" x2="1367.68" y2="1045" stroke="#000" stroke-width="4.6" stroke-linecap="butt"/>
<line x1="1378.34" y1="1036" x2="1378.34" y2="1045" stroke="#000" stroke-width="4.6" stroke-linecap="butt"/>
<line x1="1387.35" y1="1036" x2="1387.35" y2="1045" stroke="#000" stroke-width="4.6" stroke-linecap="butt"/>
<line x1="1395.16" y1="1036" x2="1395.16" y2="1045" stroke="#000" stroke-width="4.6" stroke-linecap="butt"/>
<line x1="1402.04" y1="1036" x2="1402.04" y2="1045" stroke="#000" stroke-width="4.6" stroke-linecap="butt"/>
<line x1="1408.2" y1="1036" x2="1408.2" y2="1049.2" stroke="#000" stroke-width="4.6" stroke-linecap="butt"/>
<line x1="1448.72" y1="1036" x2="1448.72" y2="1045" stroke="#000" stroke-width="4.6" stroke-linecap="butt"/>
<line x1="1472.42" y1="1036" x2="1472.42" y2="1045" stroke="#000" stroke-width="4.6" stroke-linecap="butt"/>
<line x1="1489.24" y1="1036" x2="1489.24" y2="1045" stroke="#000" stroke-width="4.6" stroke-linecap="butt"/>
<line x1="1502.28" y1="1036" x2="1502.28" y2="1045" stroke="#000" stroke-width="4.6" stroke-linecap="butt"/>
<line x1="1512.94" y1="1036" x2="1512.94" y2="1045" stroke="#000" stroke-width="4.6" stroke-linecap="butt"/>
<line x1="1521.95" y1="1036" x2="1521.95" y2="1045" stroke="#000" stroke-width="4.6" stroke-linecap="butt"/>
<line x1="1529.76" y1="1036" x2="1529.76" y2="1045" stroke="#000" stroke-width="4.6" stroke-linecap="butt"/>
<line x1="1536.64" y1="1036" x2="1536.64" y2="1045" stroke="#000" stroke-width="4.6" stroke-linecap="butt"/>
<line x1="1542.8" y1="1036" x2="1542.8" y2="1049.2" stroke="#000" stroke-width="4.6" stroke-linecap="butt"/>
<line x1="1583.32" y1="1036" x2="1583.32" y2="1045" stroke="#000" stroke-width="4.6" stroke-linecap="butt"/>
<line x1="1607.02" y1="1036" x2="1607.02" y2="1045" stroke="#000" stroke-width="4.6" stroke-linecap="butt"/>
<line x1="1623.84" y1="1036" x2="1623.84" y2="1045" stroke="#000" stroke-width="4.6" stroke-linecap="butt"/>
<line x1="1636.88" y1="1036" x2="1636.88" y2="1045" stroke="#000" stroke-width="4.6" stroke-linecap="butt"/>
<line x1="1647.54" y1="1036" x2="1647.54" y2="1045" stroke="#000" stroke-width="4.6" stroke-linecap="butt"/>
<line x1="1656.55" y1="1036" x2="1656.55" y2="1045" stroke="#000" stroke-width="4.6" stroke-linecap="butt"/>
<line x1="1664.36" y1="1036" x2="1664.36" y2="1045" stroke="#000" stroke-width="4.6" stroke-linecap="butt"/>
<line x1="1671.24" y1="1036" x2="1671.24" y2="1045" stroke="#000" stroke-width="4.6" stroke-linecap="butt"/>
<line x1="1677.4" y1="1036" x2="1677.4" y2="1049.2" stroke="#000" stroke-width="4.6" stroke-linecap="butt"/>
<text transform="translate(1072.27,677.99) scale(0.9925,1)" font-family="'Liberation Sans', Arial, sans-serif" font-weight="bold" font-size="31.1">150</text>
<text transform="translate(1072.27,800.49) scale(0.9880,1)" font-family="'Liberation Sans', Arial, sans-serif" font-weight="bold" font-size="31.24">100</text>
<text transform="translate(1089.9,922.99) scale(0.9648,1)" font-family="'Liberation Sans', Arial, sans-serif" font-weight="bold" font-size="31.1">50</text>
<text transform="translate(1107.15,1044.71) scale(0.9810,1)" font-family="'Liberation Sans', Arial, sans-serif" font-weight="bold" font-size="29.4">0</text>
<text transform="translate(1108.85,1078.1) scale(0.9772,1)" font-family="'Liberation Sans', Arial, sans-serif" font-weight="bold" font-size="29.54">0.01</text>
<text transform="translate(1252.69,1078.1) scale(0.9368,1)" font-family="'Liberation Sans', Arial, sans-serif" font-weight="bold" font-size="29.54">0.1</text>
<text transform="translate(1399.56,1078.4) scale(0.7569,1)" font-family="'Liberation Sans', Arial, sans-serif" font-weight="bold" font-size="30.4">1</text>
<text transform="translate(1526.09,1078.1) scale(1.0349,1)" font-family="'Liberation Sans', Arial, sans-serif" font-weight="bold" font-size="29.54">10</text>
<text transform="translate(1651.86,1078.1) scale(1.0512,1)" font-family="'Liberation Sans', Arial, sans-serif" font-weight="bold" font-size="29.54">100</text>
<text transform="translate(1322.56,1130) scale(0.9210,1)" font-family="'Liberation Sans', Arial, sans-serif" font-weight="bold" font-size="32">AbCBD (uM)</text>
<text transform="translate(1012,970.07) rotate(-90) scale(0.9645,1)" font-family="'Liberation Sans', Arial, sans-serif" font-weight="bold" font-size="36.14">% cell viability</text>
<line x1="1367.68" y1="808.7" x2="1367.68" y2="846.7" stroke="#000" stroke-width="3.2" stroke-linecap="butt"/>
<line x1="1360.73" y1="808.7" x2="1374.63" y2="808.7" stroke="#000" stroke-width="3.6" stroke-linecap="round"/>
<line x1="1360.73" y1="846.7" x2="1374.63" y2="846.7" stroke="#000" stroke-width="3.6" stroke-linecap="round"/>
<line x1="1408.2" y1="821.7" x2="1408.2" y2="837.5" stroke="#000" stroke-width="3.2" stroke-linecap="butt"/>
<line x1="1401.25" y1="821.7" x2="1415.15" y2="821.7" stroke="#000" stroke-width="3.6" stroke-linecap="round"/>
<line x1="1401.25" y1="837.5" x2="1415.15" y2="837.5" stroke="#000" stroke-width="3.6" stroke-linecap="round"/>
<line x1="1502.28" y1="847.5" x2="1502.28" y2="871.3" stroke="#000" stroke-width="3.2" stroke-linecap="butt"/>
<line x1="1495.33" y1="847.5" x2="1509.23" y2="847.5" stroke="#000" stroke-width="3.6" stroke-linecap="round"/>
<line x1="1495.33" y1="871.3" x2="1509.23" y2="871.3" stroke="#000" stroke-width="3.6" stroke-linecap="round"/>
<line x1="1542.8" y1="919.2" x2="1542.8" y2="1000.8" stroke="#000" stroke-width="3.2" stroke-linecap="butt"/>
<line x1="1535.85" y1="919.2" x2="1549.75" y2="919.2" stroke="#000" stroke-width="3.6" stroke-linecap="round"/>
<line x1="1535.85" y1="1000.8" x2="1549.75" y2="1000.8" stroke="#000" stroke-width="3.6" stroke-linecap="round"/>
<line x1="1367.68" y1="907" x2="1367.68" y2="948" stroke="#000" stroke-width="3.2" stroke-linecap="butt"/>
<line x1="1360.73" y1="907" x2="1374.63" y2="907" stroke="#000" stroke-width="3.6" stroke-linecap="round"/>
<line x1="1360.73" y1="948" x2="1374.63" y2="948" stroke="#000" stroke-width="3.6" stroke-linecap="round"/>
<line x1="1461.76" y1="901.3" x2="1461.76" y2="938.3" stroke="#000" stroke-width="3.2" stroke-linecap="butt"/>
<line x1="1454.81" y1="901.3" x2="1468.71" y2="901.3" stroke="#000" stroke-width="3.6" stroke-linecap="round"/>
<line x1="1454.81" y1="938.3" x2="1468.71" y2="938.3" stroke="#000" stroke-width="3.6" stroke-linecap="round"/>
<line x1="1502.28" y1="901.3" x2="1502.28" y2="962" stroke="#000" stroke-width="3.2" stroke-linecap="butt"/>
<line x1="1495.33" y1="901.3" x2="1509.23" y2="901.3" stroke="#000" stroke-width="3.6" stroke-linecap="round"/>
<line x1="1495.33" y1="962" x2="1509.23" y2="962" stroke="#000" stroke-width="3.6" stroke-linecap="round"/>
<line x1="1542.8" y1="910" x2="1542.8" y2="980.8" stroke="#000" stroke-width="3.2" stroke-linecap="butt"/>
<line x1="1535.85" y1="910" x2="1549.75" y2="910" stroke="#000" stroke-width="3.6" stroke-linecap="round"/>
<line x1="1535.85" y1="980.8" x2="1549.75" y2="980.8" stroke="#000" stroke-width="3.6" stroke-linecap="round"/>
<path d="M1273.6 786.5 L1367.68 827.5 L1408.2 830 L1461.76 810.8 L1502.28 861.7 L1542.8 961.7" fill="none" stroke="#000" stroke-width="5.3" stroke-linejoin="round" stroke-linecap="round"/>
<path d="M1273.6 910.8 L1367.68 927.5 L1408.2 893.3 L1461.76 919.2 L1502.28 931.3 L1542.8 944.7" fill="none" stroke="#000" stroke-width="5.3" stroke-linejoin="round" stroke-linecap="round"/>
<path d="M1273.6 778.1 L1280.85 792.1 L1266.35 792.1 Z" fill="#000"/>
<path d="M1367.68 819.1 L1374.93 833.1 L1360.43 833.1 Z" fill="#000"/>
<path d="M1408.2 821.6 L1415.45 835.6 L1400.95 835.6 Z" fill="#000"/>
<path d="M1461.76 802.4 L1469.01 816.4 L1454.51 816.4 Z" fill="#000"/>
<path d="M1502.28 853.3 L1509.53 867.3 L1495.03 867.3 Z" fill="#000"/>
<path d="M1542.8 953.3 L1550.05 967.3 L1535.55 967.3 Z" fill="#000"/>
<rect x="1266.6" y="903.8" width="14" height="14" fill="#000"/>
<rect x="1360.68" y="920.5" width="14" height="14" fill="#000"/>
<rect x="1401.2" y="886.3" width="14" height="14" fill="#000"/>
<rect x="1454.76" y="912.2" width="14" height="14" fill="#000"/>
<rect x="1495.28" y="924.3" width="14" height="14" fill="#000"/>
<rect x="1535.8" y="937.7" width="14" height="14" fill="#000"/>
<line x1="1428" y1="687.7" x2="1464.6" y2="687.7" stroke="#000" stroke-width="5.5" stroke-linecap="round"/>
<rect x="1438.7" y="680.3" width="14.5" height="14.9" fill="#000"/>
<line x1="1420.6" y1="731.2" x2="1457.2" y2="731.2" stroke="#000" stroke-width="5.5" stroke-linecap="round"/>
<path d="M1439 724.4 L1446 738.4 L1432 738.4 Z"/>
<text transform="translate(1485.55,697.2) scale(0.9845,1)" font-family="'Liberation Sans', Arial, sans-serif" font-weight="normal" font-size="30.11">MCF-7 (+Paclitaxel)</text>
<text transform="translate(1478.86,740.3) scale(0.9806,1)" font-family="'Liberation Sans', Arial, sans-serif" font-weight="normal" font-size="30.11">MCF-7 (-Paclitaxel)</text>
<text transform="translate(4.68,1165.2) scale(0.7171,1)" font-family="'Liberation Sans', Arial, sans-serif" font-weight="normal" font-size="40.87">E</text>
<rect x="134.7" y="1165" width="4.2" height="439.3" fill="#000"/>
<rect x="126.7" y="1165" width="11.3" height="4" fill="#000"/>
<rect x="126.7" y="1310" width="11.3" height="4" fill="#000"/>
<rect x="126.7" y="1455.3" width="11.3" height="4" fill="#000"/>
<line x1="126.9" y1="1602.2" x2="700.3" y2="1602.2" stroke="#000" stroke-width="4" stroke-linecap="butt"/>
<line x1="137.3" y1="1602.2" x2="137.3" y2="1613.3" stroke="#000" stroke-width="4" stroke-linecap="butt"/>
<line x1="179.53" y1="1602.2" x2="179.53" y2="1609" stroke="#000" stroke-width="4" stroke-linecap="butt"/>
<line x1="204.24" y1="1602.2" x2="204.24" y2="1609" stroke="#000" stroke-width="4" stroke-linecap="butt"/>
<line x1="221.77" y1="1602.2" x2="221.77" y2="1609" stroke="#000" stroke-width="4" stroke-linecap="butt"/>
<line x1="235.37" y1="1602.2" x2="235.37" y2="1609" stroke="#000" stroke-width="4" stroke-linecap="butt"/>
<line x1="246.47" y1="1602.2" x2="246.47" y2="1609" stroke="#000" stroke-width="4" stroke-linecap="butt"/>
<line x1="255.87" y1="1602.2" x2="255.87" y2="1609" stroke="#000" stroke-width="4" stroke-linecap="butt"/>
<line x1="264" y1="1602.2" x2="264" y2="1609" stroke="#000" stroke-width="4" stroke-linecap="butt"/>
<line x1="271.18" y1="1602.2" x2="271.18" y2="1609" stroke="#000" stroke-width="4" stroke-linecap="butt"/>
<line x1="277.6" y1="1602.2" x2="277.6" y2="1613.3" stroke="#000" stroke-width="4" stroke-linecap="butt"/>
<line x1="319.83" y1="1602.2" x2="319.83" y2="1609" stroke="#000" stroke-width="4" stroke-linecap="butt"/>
<line x1="344.54" y1="1602.2" x2="344.54" y2="1609" stroke="#000" stroke-width="4" stroke-linecap="butt"/>
<line x1="362.07" y1="1602.2" x2="362.07" y2="1609" stroke="#000" stroke-width="4" stroke-linecap="butt"/>
<line x1="375.67" y1="1602.2" x2="375.67" y2="1609" stroke="#000" stroke-width="4" stroke-linecap="butt"/>
<line x1="386.77" y1="1602.2" x2="386.77" y2="1609" stroke="#000" stroke-width="4" stroke-linecap="butt"/>
<line x1="396.17" y1="1602.2" x2="396.17" y2="1609" stroke="#000" stroke-width="4" stroke-linecap="butt"/>
<line x1="404.3" y1="1602.2" x2="404.3" y2="1609" stroke="#000" stroke-width="4" stroke-linecap="butt"/>
<line x1="411.48" y1="1602.2" x2="411.48" y2="1609" stroke="#000" stroke-width="4" stroke-linecap="butt"/>
<line x1="417.9" y1="1602.2" x2="417.9" y2="1613.3" stroke="#000" stroke-width="4" stroke-linecap="butt"/>
<line x1="460.13" y1="1602.2" x2="460.13" y2="1609" stroke="#000" stroke-width="4" stroke-linecap="butt"/>
<line x1="484.84" y1="1602.2" x2="484.84" y2="1609" stroke="#000" stroke-width="4" stroke-linecap="butt"/>
<line x1="502.37" y1="1602.2" x2="502.37" y2="1609" stroke="#000" stroke-width="4" stroke-linecap="butt"/>
<line x1="515.97" y1="1602.2" x2="515.97" y2="1609" stroke="#000" stroke-width="4" stroke-linecap="butt"/>
<line x1="527.07" y1="1602.2" x2="527.07" y2="1609" stroke="#000" stroke-width="4" stroke-linecap="butt"/>
<line x1="536.47" y1="1602.2" x2="536.47" y2="1609" stroke="#000" stroke-width="4" stroke-linecap="butt"/>
<line x1="544.6" y1="1602.2" x2="544.6" y2="1609" stroke="#000" stroke-width="4" stroke-linecap="butt"/>
<line x1="551.78" y1="1602.2" x2="551.78" y2="1609" stroke="#000" stroke-width="4" stroke-linecap="butt"/>
<line x1="558.2" y1="1602.2" x2="558.2" y2="1613.3" stroke="#000" stroke-width="4" stroke-linecap="butt"/>
<line x1="600.43" y1="1602.2" x2="600.43" y2="1609" stroke="#000" stroke-width="4" stroke-linecap="butt"/>
<line x1="625.14" y1="1602.2" x2="625.14" y2="1609" stroke="#000" stroke-width="4" stroke-linecap="butt"/>
<line x1="642.67" y1="1602.2" x2="642.67" y2="1609" stroke="#000" stroke-width="4" stroke-linecap="butt"/>
<line x1="656.27" y1="1602.2" x2="656.27" y2="1609" stroke="#000" stroke-width="4" stroke-linecap="butt"/>
<line x1="667.37" y1="1602.2" x2="667.37" y2="1609" stroke="#000" stroke-width="4" stroke-linecap="butt"/>
<line x1="676.77" y1="1602.2" x2="676.77" y2="1609" stroke="#000" stroke-width="4" stroke-linecap="butt"/>
<line x1="684.9" y1="1602.2" x2="684.9" y2="1609" stroke="#000" stroke-width="4" stroke-linecap="butt"/>
<line x1="692.08" y1="1602.2" x2="692.08" y2="1609" stroke="#000" stroke-width="4" stroke-linecap="butt"/>
<line x1="698.5" y1="1602.2" x2="698.5" y2="1613.3" stroke="#000" stroke-width="4" stroke-linecap="butt"/>
<text transform="translate(84.27,1174.75) scale(0.9920,1)" font-family="'Liberation Sans', Arial, sans-serif" font-weight="bold" font-size="24.73">150</text>
<text transform="translate(84.27,1319.75) scale(0.9920,1)" font-family="'Liberation Sans', Arial, sans-serif" font-weight="bold" font-size="24.73">100</text>
<text transform="translate(99.3,1465.76) scale(0.9611,1)" font-family="'Liberation Sans', Arial, sans-serif" font-weight="bold" font-size="24.31">50</text>
<text transform="translate(111.94,1610.56) scale(0.9872,1)" font-family="'Liberation Sans', Arial, sans-serif" font-weight="bold" font-size="24.31">0</text>
<text transform="translate(114.08,1636.36) scale(0.9421,1)" font-family="'Liberation Sans', Arial, sans-serif" font-weight="bold" font-size="24.31">0.01</text>
<text transform="translate(261.52,1636.36) scale(0.9020,1)" font-family="'Liberation Sans', Arial, sans-serif" font-weight="bold" font-size="24.31">0.1</text>
<text transform="translate(411.5,1636.6) scale(0.8338,1)" font-family="'Liberation Sans', Arial, sans-serif" font-weight="bold" font-size="25.02">1</text>
<text transform="translate(545.73,1636.36) scale(0.9676,1)" font-family="'Liberation Sans', Arial, sans-serif" font-weight="bold" font-size="24.31">10</text>
<text transform="translate(678.99,1636.36) scale(0.9909,1)" font-family="'Liberation Sans', Arial, sans-serif" font-weight="bold" font-size="24.31">100</text>
<text transform="translate(352.27,1676.3) scale(0.9780,1)" font-family="'Liberation Sans', Arial, sans-serif" font-weight="bold" font-size="23.71">O-1602 (uM)</text>
<text transform="translate(35.5,1478.09) rotate(-90) scale(1.0452,1)" font-family="'Liberation Sans', Arial, sans-serif" font-weight="bold" font-size="26.49">% cell viability</text>
<line x1="277.6" y1="1321.5" x2="277.6" y2="1343" stroke="#000" stroke-width="2.6" stroke-linecap="butt"/>
<line x1="272.6" y1="1321.5" x2="282.6" y2="1321.5" stroke="#000" stroke-width="3" stroke-linecap="round"/>
<line x1="272.6" y1="1343" x2="282.6" y2="1343" stroke="#000" stroke-width="3" stroke-linecap="round"/>
<line x1="375.67" y1="1317.5" x2="375.67" y2="1333.5" stroke="#000" stroke-width="2.6" stroke-linecap="butt"/>
<line x1="370.67" y1="1317.5" x2="380.67" y2="1317.5" stroke="#000" stroke-width="3" stroke-linecap="round"/>
<line x1="370.67" y1="1333.5" x2="380.67" y2="1333.5" stroke="#000" stroke-width="3" stroke-linecap="round"/>
<line x1="417.9" y1="1323.2" x2="417.9" y2="1356.4" stroke="#000" stroke-width="2.6" stroke-linecap="butt"/>
<line x1="412.9" y1="1323.2" x2="422.9" y2="1323.2" stroke="#000" stroke-width="3" stroke-linecap="round"/>
<line x1="412.9" y1="1356.4" x2="422.9" y2="1356.4" stroke="#000" stroke-width="3" stroke-linecap="round"/>
<line x1="473.73" y1="1366.8" x2="473.73" y2="1401.9" stroke="#000" stroke-width="2.6" stroke-linecap="butt"/>
<line x1="468.73" y1="1366.8" x2="478.73" y2="1366.8" stroke="#000" stroke-width="3" stroke-linecap="round"/>
<line x1="468.73" y1="1401.9" x2="478.73" y2="1401.9" stroke="#000" stroke-width="3" stroke-linecap="round"/>
<line x1="515.97" y1="1341.8" x2="515.97" y2="1374.8" stroke="#000" stroke-width="2.6" stroke-linecap="butt"/>
<line x1="510.97" y1="1341.8" x2="520.97" y2="1341.8" stroke="#000" stroke-width="3" stroke-linecap="round"/>
<line x1="510.97" y1="1374.8" x2="520.97" y2="1374.8" stroke="#000" stroke-width="3" stroke-linecap="round"/>
<line x1="558.2" y1="1363.7" x2="558.2" y2="1390.8" stroke="#000" stroke-width="2.6" stroke-linecap="butt"/>
<line x1="553.2" y1="1363.7" x2="563.2" y2="1363.7" stroke="#000" stroke-width="3" stroke-linecap="round"/>
<line x1="553.2" y1="1390.8" x2="563.2" y2="1390.8" stroke="#000" stroke-width="3" stroke-linecap="round"/>
<line x1="277.6" y1="1401" x2="277.6" y2="1413.5" stroke="#000" stroke-width="2.6" stroke-linecap="butt"/>
<line x1="272.6" y1="1401" x2="282.6" y2="1401" stroke="#000" stroke-width="3" stroke-linecap="round"/>
<line x1="272.6" y1="1413.5" x2="282.6" y2="1413.5" stroke="#000" stroke-width="3" stroke-linecap="round"/>
<line x1="375.67" y1="1407.5" x2="375.67" y2="1421.3" stroke="#000" stroke-width="2.6" stroke-linecap="butt"/>
<line x1="370.67" y1="1407.5" x2="380.67" y2="1407.5" stroke="#000" stroke-width="3" stroke-linecap="round"/>
<line x1="370.67" y1="1421.3" x2="380.67" y2="1421.3" stroke="#000" stroke-width="3" stroke-linecap="round"/>
<line x1="417.9" y1="1413.9" x2="417.9" y2="1428.7" stroke="#000" stroke-width="2.6" stroke-linecap="butt"/>
<line x1="412.9" y1="1413.9" x2="422.9" y2="1413.9" stroke="#000" stroke-width="3" stroke-linecap="round"/>
<line x1="412.9" y1="1428.7" x2="422.9" y2="1428.7" stroke="#000" stroke-width="3" stroke-linecap="round"/>
<line x1="473.73" y1="1418.7" x2="473.73" y2="1432.8" stroke="#000" stroke-width="2.6" stroke-linecap="butt"/>
<line x1="468.73" y1="1418.7" x2="478.73" y2="1418.7" stroke="#000" stroke-width="3" stroke-linecap="round"/>
<line x1="468.73" y1="1432.8" x2="478.73" y2="1432.8" stroke="#000" stroke-width="3" stroke-linecap="round"/>
<line x1="558.2" y1="1423.5" x2="558.2" y2="1450" stroke="#000" stroke-width="2.6" stroke-linecap="butt"/>
<line x1="553.2" y1="1423.5" x2="563.2" y2="1423.5" stroke="#000" stroke-width="3" stroke-linecap="round"/>
<line x1="553.2" y1="1450" x2="563.2" y2="1450" stroke="#000" stroke-width="3" stroke-linecap="round"/>
<path d="M277.6 1321.27 L279.94 1321.29 L282.28 1321.31 L284.62 1321.33 L286.95 1321.35 L289.29 1321.37 L291.63 1321.4 L293.97 1321.42 L296.31 1321.45 L298.64 1321.48 L300.98 1321.52 L303.32 1321.56 L305.66 1321.6 L308 1321.64 L310.34 1321.69 L312.68 1321.74 L315.01 1321.79 L317.35 1321.85 L319.69 1321.92 L322.03 1321.99 L324.37 1322.06 L326.71 1322.14 L329.04 1322.23 L331.38 1322.33 L333.72 1322.43 L336.06 1322.54 L338.4 1322.66 L340.74 1322.79 L343.07 1322.93 L345.41 1323.09 L347.75 1323.25 L350.09 1323.43 L352.43 1323.62 L354.77 1323.83 L357.1 1324.05 L359.44 1324.29 L361.78 1324.55 L364.12 1324.83 L366.46 1325.13 L368.8 1325.45 L371.13 1325.8 L373.47 1326.18 L375.81 1326.58 L378.15 1327.01 L380.49 1327.47 L382.83 1327.97 L385.16 1328.5 L387.5 1329.07 L389.84 1329.68 L392.18 1330.33 L394.52 1331.03 L396.86 1331.77 L399.19 1332.55 L401.53 1333.39 L403.87 1334.28 L406.21 1335.22 L408.55 1336.21 L410.89 1337.26 L413.22 1338.36 L415.56 1339.52 L417.9 1340.73 L420.24 1342 L422.58 1343.32 L424.92 1344.69 L427.25 1346.11 L429.59 1347.57 L431.93 1349.07 L434.27 1350.6 L436.61 1352.16 L438.95 1353.73 L441.28 1355.32 L443.62 1356.9 L445.96 1358.48 L448.3 1360.03 L450.64 1361.56 L452.98 1363.04 L455.31 1364.46 L457.65 1365.83 L459.99 1367.11 L462.33 1368.31 L464.67 1369.42 L467.01 1370.43 L469.34 1371.35 L471.68 1372.16 L474.02 1372.86 L476.36 1373.47 L478.7 1373.98 L481.04 1374.41 L483.37 1374.75 L485.71 1375.03 L488.05 1375.24 L490.39 1375.4 L492.73 1375.52 L495.06 1375.61 L497.4 1375.67 L499.74 1375.71 L502.08 1375.73 L504.42 1375.75 L506.76 1375.76 L509.1 1375.77 L511.43 1375.77 L513.77 1375.77 L516.11 1375.77 L518.45 1375.77 L520.79 1375.78 L523.12 1375.78 L525.46 1375.78 L527.8 1375.78 L530.14 1375.78 L532.48 1375.78 L534.82 1375.78 L537.15 1375.78 L539.49 1375.78 L541.83 1375.78 L544.17 1375.78 L546.51 1375.78 L548.85 1375.78 L551.19 1375.78 L553.52 1375.78 L555.86 1375.78 L558.2 1375.78" fill="none" stroke="#000" stroke-width="3.8" stroke-linejoin="round" stroke-linecap="round"/>
<path d="M277.6 1415.33 L279.94 1415.33 L282.28 1415.33 L284.62 1415.33 L286.95 1415.33 L289.29 1415.33 L291.63 1415.33 L293.97 1415.34 L296.31 1415.34 L298.64 1415.34 L300.98 1415.34 L303.32 1415.34 L305.66 1415.34 L308 1415.34 L310.34 1415.34 L312.68 1415.34 L315.01 1415.35 L317.35 1415.35 L319.69 1415.35 L322.03 1415.35 L324.37 1415.36 L326.71 1415.36 L329.04 1415.37 L331.38 1415.37 L333.72 1415.38 L336.06 1415.38 L338.4 1415.39 L340.74 1415.4 L343.07 1415.41 L345.41 1415.42 L347.75 1415.43 L350.09 1415.44 L352.43 1415.46 L354.77 1415.48 L357.1 1415.5 L359.44 1415.52 L361.78 1415.54 L364.12 1415.57 L366.46 1415.6 L368.8 1415.64 L371.13 1415.68 L373.47 1415.73 L375.81 1415.78 L378.15 1415.84 L380.49 1415.9 L382.83 1415.98 L385.16 1416.06 L387.5 1416.16 L389.84 1416.26 L392.18 1416.38 L394.52 1416.51 L396.86 1416.65 L399.19 1416.82 L401.53 1416.99 L403.87 1417.19 L406.21 1417.41 L408.55 1417.65 L410.89 1417.9 L413.22 1418.19 L415.56 1418.49 L417.9 1418.82 L420.24 1419.17 L422.58 1419.54 L424.92 1419.93 L427.25 1420.34 L429.59 1420.77 L431.93 1421.21 L434.27 1421.67 L436.61 1422.13 L438.95 1422.6 L441.28 1423.07 L443.62 1423.54 L445.96 1424 L448.3 1424.45 L450.64 1424.89 L452.98 1425.31 L455.31 1425.72 L457.65 1426.1 L459.99 1426.46 L462.33 1426.8 L464.67 1427.12 L467.01 1427.41 L469.34 1427.69 L471.68 1427.94 L474.02 1428.16 L476.36 1428.37 L478.7 1428.56 L481.04 1428.73 L483.37 1428.89 L485.71 1429.02 L488.05 1429.15 L490.39 1429.26 L492.73 1429.36 L495.06 1429.45 L497.4 1429.53 L499.74 1429.6 L502.08 1429.66 L504.42 1429.72 L506.76 1429.77 L509.1 1429.81 L511.43 1429.85 L513.77 1429.89 L516.11 1429.92 L518.45 1429.94 L520.79 1429.97 L523.12 1429.99 L525.46 1430.01 L527.8 1430.02 L530.14 1430.04 L532.48 1430.05 L534.82 1430.06 L537.15 1430.07 L539.49 1430.08 L541.83 1430.09 L544.17 1430.1 L546.51 1430.1 L548.85 1430.11 L551.19 1430.11 L553.52 1430.12 L555.86 1430.12 L558.2 1430.12" fill="none" stroke="#000" stroke-width="3.8" stroke-linejoin="round" stroke-linecap="round"/>
<path d="M277.6 1326.7 L283.35 1337.2 L271.85 1337.2 Z" fill="#000"/>
<path d="M375.67 1321.2 L381.42 1331.7 L369.92 1331.7 Z" fill="#000"/>
<path d="M417.9 1335 L423.65 1345.5 L412.15 1345.5 Z" fill="#000"/>
<path d="M473.73 1379.7 L479.48 1390.2 L467.98 1390.2 Z" fill="#000"/>
<path d="M515.97 1353.9 L521.72 1364.4 L510.22 1364.4 Z" fill="#000"/>
<path d="M558.2 1372.8 L563.95 1383.3 L552.45 1383.3 Z" fill="#000"/>
<rect x="271.6" y="1401.5" width="12" height="12" fill="#000"/>
<rect x="369.67" y="1408.4" width="12" height="12" fill="#000"/>
<rect x="411.9" y="1415.3" width="12" height="12" fill="#000"/>
<rect x="467.73" y="1419.6" width="12" height="12" fill="#000"/>
<rect x="509.97" y="1419.1" width="12" height="12" fill="#000"/>
<rect x="552.2" y="1430.8" width="12" height="12" fill="#000"/>
<line x1="304" y1="1215.3" x2="334.4" y2="1215.3" stroke="#000" stroke-width="4" stroke-linecap="round"/>
<rect x="313.8" y="1210.3" width="11" height="10.6" fill="#000"/>
<line x1="304" y1="1258.3" x2="334.4" y2="1258.3" stroke="#000" stroke-width="4" stroke-linecap="round"/>
<path d="M319.55 1253.3 L325.3 1263.8 L313.8 1263.8 Z"/>
<text transform="translate(350.86,1223.1) scale(0.9737,1)" font-family="'Liberation Sans', Arial, sans-serif" font-weight="normal" font-size="24.15">MDA-MB-231 cells (+Paclitaxel)</text>
<text transform="translate(350.86,1266) scale(0.9728,1)" font-family="'Liberation Sans', Arial, sans-serif" font-weight="normal" font-size="24.15">MDA-MB-231 cells (-Paclitaxel)</text>
<text transform="translate(971.46,1175.7) scale(0.7857,1)" font-family="'Liberation Sans', Arial, sans-serif" font-weight="normal" font-size="40.73">F</text>
<rect x="1136.7" y="1203.7" width="4.6" height="391.5" fill="#000"/>
<rect x="1125" y="1203.7" width="16" height="4.6" fill="#000"/>
<rect x="1125" y="1332.2" width="16" height="4.6" fill="#000"/>
<rect x="1125" y="1461.7" width="16" height="4.6" fill="#000"/>
<line x1="1125" y1="1592.7" x2="1708.6" y2="1592.7" stroke="#000" stroke-width="5" stroke-linecap="butt"/>
<line x1="1139" y1="1592.7" x2="1139" y2="1607" stroke="#000" stroke-width="4.6" stroke-linecap="butt"/>
<line x1="1181.66" y1="1592.7" x2="1181.66" y2="1602" stroke="#000" stroke-width="4.6" stroke-linecap="butt"/>
<line x1="1206.61" y1="1592.7" x2="1206.61" y2="1602" stroke="#000" stroke-width="4.6" stroke-linecap="butt"/>
<line x1="1224.31" y1="1592.7" x2="1224.31" y2="1602" stroke="#000" stroke-width="4.6" stroke-linecap="butt"/>
<line x1="1238.04" y1="1592.7" x2="1238.04" y2="1602" stroke="#000" stroke-width="4.6" stroke-linecap="butt"/>
<line x1="1249.26" y1="1592.7" x2="1249.26" y2="1602" stroke="#000" stroke-width="4.6" stroke-linecap="butt"/>
<line x1="1258.75" y1="1592.7" x2="1258.75" y2="1602" stroke="#000" stroke-width="4.6" stroke-linecap="butt"/>
<line x1="1266.97" y1="1592.7" x2="1266.97" y2="1602" stroke="#000" stroke-width="4.6" stroke-linecap="butt"/>
<line x1="1274.22" y1="1592.7" x2="1274.22" y2="1602" stroke="#000" stroke-width="4.6" stroke-linecap="butt"/>
<line x1="1280.7" y1="1592.7" x2="1280.7" y2="1607" stroke="#000" stroke-width="4.6" stroke-linecap="butt"/>
<line x1="1323.36" y1="1592.7" x2="1323.36" y2="1602" stroke="#000" stroke-width="4.6" stroke-linecap="butt"/>
<line x1="1348.31" y1="1592.7" x2="1348.31" y2="1602" stroke="#000" stroke-width="4.6" stroke-linecap="butt"/>
<line x1="1366.01" y1="1592.7" x2="1366.01" y2="1602" stroke="#000" stroke-width="4.6" stroke-linecap="butt"/>
<line x1="1379.74" y1="1592.7" x2="1379.74" y2="1602" stroke="#000" stroke-width="4.6" stroke-linecap="butt"/>
<line x1="1390.96" y1="1592.7" x2="1390.96" y2="1602" stroke="#000" stroke-width="4.6" stroke-linecap="butt"/>
<line x1="1400.45" y1="1592.7" x2="1400.45" y2="1602" stroke="#000" stroke-width="4.6" stroke-linecap="butt"/>
<line x1="1408.67" y1="1592.7" x2="1408.67" y2="1602" stroke="#000" stroke-width="4.6" stroke-linecap="butt"/>
<line x1="1415.92" y1="1592.7" x2="1415.92" y2="1602" stroke="#000" stroke-width="4.6" stroke-linecap="butt"/>
<line x1="1422.4" y1="1592.7" x2="1422.4" y2="1607" stroke="#000" stroke-width="4.6" stroke-linecap="butt"/>
<line x1="1465.06" y1="1592.7" x2="1465.06" y2="1602" stroke="#000" stroke-width="4.6" stroke-linecap="butt"/>
<line x1="1490.01" y1="1592.7" x2="1490.01" y2="1602" stroke="#000" stroke-width="4.6" stroke-linecap="butt"/>
<line x1="1507.71" y1="1592.7" x2="1507.71" y2="1602" stroke="#000" stroke-width="4.6" stroke-linecap="butt"/>
<line x1="1521.44" y1="1592.7" x2="1521.44" y2="1602" stroke="#000" stroke-width="4.6" stroke-linecap="butt"/>
<line x1="1532.66" y1="1592.7" x2="1532.66" y2="1602" stroke="#000" stroke-width="4.6" stroke-linecap="butt"/>
<line x1="1542.15" y1="1592.7" x2="1542.15" y2="1602" stroke="#000" stroke-width="4.6" stroke-linecap="butt"/>
<line x1="1550.37" y1="1592.7" x2="1550.37" y2="1602" stroke="#000" stroke-width="4.6" stroke-linecap="butt"/>
<line x1="1557.62" y1="1592.7" x2="1557.62" y2="1602" stroke="#000" stroke-width="4.6" stroke-linecap="butt"/>
<line x1="1564.1" y1="1592.7" x2="1564.1" y2="1607" stroke="#000" stroke-width="4.6" stroke-linecap="butt"/>
<line x1="1606.76" y1="1592.7" x2="1606.76" y2="1602" stroke="#000" stroke-width="4.6" stroke-linecap="butt"/>
<line x1="1631.71" y1="1592.7" x2="1631.71" y2="1602" stroke="#000" stroke-width="4.6" stroke-linecap="butt"/>
<line x1="1649.41" y1="1592.7" x2="1649.41" y2="1602" stroke="#000" stroke-width="4.6" stroke-linecap="butt"/>
<line x1="1663.14" y1="1592.7" x2="1663.14" y2="1602" stroke="#000" stroke-width="4.6" stroke-linecap="butt"/>
<line x1="1674.36" y1="1592.7" x2="1674.36" y2="1602" stroke="#000" stroke-width="4.6" stroke-linecap="butt"/>
<line x1="1683.85" y1="1592.7" x2="1683.85" y2="1602" stroke="#000" stroke-width="4.6" stroke-linecap="butt"/>
<line x1="1692.07" y1="1592.7" x2="1692.07" y2="1602" stroke="#000" stroke-width="4.6" stroke-linecap="butt"/>
<line x1="1699.32" y1="1592.7" x2="1699.32" y2="1602" stroke="#000" stroke-width="4.6" stroke-linecap="butt"/>
<line x1="1705.8" y1="1592.7" x2="1705.8" y2="1607" stroke="#000" stroke-width="4.6" stroke-linecap="butt"/>
<text transform="translate(1068.76,1216.37) scale(1.0064,1)" font-family="'Liberation Sans', Arial, sans-serif" font-weight="bold" font-size="32.51">150</text>
<text transform="translate(1068.76,1344.68) scale(1.0287,1)" font-family="'Liberation Sans', Arial, sans-serif" font-weight="bold" font-size="31.8">100</text>
<text transform="translate(1087.97,1473.69) scale(1.0033,1)" font-family="'Liberation Sans', Arial, sans-serif" font-weight="bold" font-size="30.95">50</text>
<text transform="translate(1106.02,1602.68) scale(0.9268,1)" font-family="'Liberation Sans', Arial, sans-serif" font-weight="bold" font-size="31.8">0</text>
<text transform="translate(1107.79,1637.38) scale(0.9581,1)" font-family="'Liberation Sans', Arial, sans-serif" font-weight="bold" font-size="31.52">0.01</text>
<text transform="translate(1260.18,1637.38) scale(0.8900,1)" font-family="'Liberation Sans', Arial, sans-serif" font-weight="bold" font-size="31.52">0.1</text>
<text transform="translate(1413.87,1637.7) scale(0.7558,1)" font-family="'Liberation Sans', Arial, sans-serif" font-weight="bold" font-size="32.44">1</text>
<text transform="translate(1546.06,1637.38) scale(1.0360,1)" font-family="'Liberation Sans', Arial, sans-serif" font-weight="bold" font-size="31.52">10</text>
<text transform="translate(1678.86,1637.38) scale(0.9873,1)" font-family="'Liberation Sans', Arial, sans-serif" font-weight="bold" font-size="31.52">100</text>
<text transform="translate(1332.53,1691.7) scale(0.9645,1)" font-family="'Liberation Sans', Arial, sans-serif" font-weight="bold" font-size="32">AbCBD (uM)</text>
<text transform="translate(1005.71,1523.43) rotate(-90) scale(1.0147,1)" font-family="'Liberation Sans', Arial, sans-serif" font-weight="bold" font-size="36.57">% cell viability</text>
<line x1="1280.7" y1="1352.2" x2="1280.7" y2="1364.3" stroke="#000" stroke-width="3" stroke-linecap="butt"/>
<line x1="1273.7" y1="1352.2" x2="1287.7" y2="1352.2" stroke="#000" stroke-width="3.6" stroke-linecap="round"/>
<line x1="1422.6" y1="1287.2" x2="1422.6" y2="1312.2" stroke="#000" stroke-width="3" stroke-linecap="butt"/>
<line x1="1415.6" y1="1287.2" x2="1429.6" y2="1287.2" stroke="#000" stroke-width="3.6" stroke-linecap="round"/>
<line x1="1478.5" y1="1351.4" x2="1478.5" y2="1369" stroke="#000" stroke-width="3" stroke-linecap="butt"/>
<line x1="1471.5" y1="1351.4" x2="1485.5" y2="1351.4" stroke="#000" stroke-width="3.6" stroke-linecap="round"/>
<line x1="1521.5" y1="1352.9" x2="1521.5" y2="1378.4" stroke="#000" stroke-width="3" stroke-linecap="butt"/>
<line x1="1514.5" y1="1352.9" x2="1528.5" y2="1352.9" stroke="#000" stroke-width="3.6" stroke-linecap="round"/>
<line x1="1560" y1="1441.5" x2="1572" y2="1441.5" stroke="#000" stroke-width="3.6" stroke-linecap="round"/>
<line x1="1560" y1="1460.5" x2="1572" y2="1460.5" stroke="#000" stroke-width="3.6" stroke-linecap="round"/>
<path d="M1280.7 1335.91 L1283.06 1335.96 L1285.42 1336.02 L1287.79 1336.07 L1290.15 1336.13 L1292.51 1336.19 L1294.87 1336.25 L1297.23 1336.31 L1299.59 1336.38 L1301.95 1336.44 L1304.32 1336.52 L1306.68 1336.59 L1309.04 1336.67 L1311.4 1336.74 L1313.76 1336.83 L1316.12 1336.91 L1318.49 1337 L1320.85 1337.09 L1323.21 1337.19 L1325.57 1337.29 L1327.93 1337.39 L1330.3 1337.5 L1332.66 1337.61 L1335.02 1337.72 L1337.38 1337.84 L1339.74 1337.96 L1342.1 1338.09 L1344.46 1338.22 L1346.83 1338.36 L1349.19 1338.51 L1351.55 1338.65 L1353.91 1338.81 L1356.27 1338.97 L1358.63 1339.13 L1361 1339.31 L1363.36 1339.49 L1365.72 1339.67 L1368.08 1339.86 L1370.44 1340.06 L1372.81 1340.27 L1375.17 1340.49 L1377.53 1340.71 L1379.89 1340.94 L1382.25 1341.18 L1384.61 1341.43 L1386.97 1341.69 L1389.34 1341.96 L1391.7 1342.24 L1394.06 1342.53 L1396.42 1342.83 L1398.78 1343.14 L1401.14 1343.46 L1403.51 1343.8 L1405.87 1344.15 L1408.23 1344.51 L1410.59 1344.88 L1412.95 1345.27 L1415.32 1345.67 L1417.68 1346.09 L1420.04 1346.53 L1422.4 1346.98 L1424.76 1347.45 L1427.12 1347.93 L1429.48 1348.44 L1431.85 1348.96 L1434.21 1349.5 L1436.57 1350.07 L1438.93 1350.65 L1441.29 1351.26 L1443.65 1351.89 L1446.02 1352.54 L1448.38 1353.22 L1450.74 1353.92 L1453.1 1354.65 L1455.46 1355.41 L1457.83 1356.2 L1460.19 1357.01 L1462.55 1357.86 L1464.91 1358.74 L1467.27 1359.65 L1469.63 1360.6 L1471.99 1361.58 L1474.36 1362.6 L1476.72 1363.65 L1479.08 1364.75 L1481.44 1365.89 L1483.8 1367.07 L1486.16 1368.3 L1488.53 1369.57 L1490.89 1370.89 L1493.25 1372.26 L1495.61 1373.68 L1497.97 1375.16 L1500.34 1376.69 L1502.7 1378.28 L1505.06 1379.93 L1507.42 1381.64 L1509.78 1383.41 L1512.14 1385.25 L1514.5 1387.16 L1516.87 1389.15 L1519.23 1391.21 L1521.59 1393.34 L1523.95 1395.56 L1526.31 1397.86 L1528.67 1400.25 L1531.04 1402.72 L1533.4 1405.29 L1535.76 1407.96 L1538.12 1410.73 L1540.48 1413.6 L1542.85 1416.58 L1545.21 1419.67 L1547.57 1422.88 L1549.93 1426.21 L1552.29 1429.66 L1554.65 1433.25 L1557.01 1436.97 L1559.38 1440.83 L1561.74 1444.84 L1564.1 1448.99" fill="none" stroke="#000" stroke-width="5" stroke-linejoin="round" stroke-linecap="round"/>
<path d="M1280.7 1376.22 L1283.06 1376.25 L1285.42 1376.28 L1287.79 1376.31 L1290.15 1376.35 L1292.51 1376.38 L1294.87 1376.42 L1297.23 1376.46 L1299.59 1376.5 L1301.95 1376.54 L1304.32 1376.58 L1306.68 1376.62 L1309.04 1376.67 L1311.4 1376.72 L1313.76 1376.77 L1316.12 1376.82 L1318.49 1376.87 L1320.85 1376.92 L1323.21 1376.98 L1325.57 1377.04 L1327.93 1377.1 L1330.3 1377.17 L1332.66 1377.23 L1335.02 1377.3 L1337.38 1377.37 L1339.74 1377.44 L1342.1 1377.52 L1344.46 1377.6 L1346.83 1377.68 L1349.19 1377.77 L1351.55 1377.85 L1353.91 1377.95 L1356.27 1378.04 L1358.63 1378.14 L1361 1378.24 L1363.36 1378.35 L1365.72 1378.46 L1368.08 1378.57 L1370.44 1378.69 L1372.81 1378.81 L1375.17 1378.94 L1377.53 1379.07 L1379.89 1379.21 L1382.25 1379.35 L1384.61 1379.5 L1386.97 1379.65 L1389.34 1379.81 L1391.7 1379.97 L1394.06 1380.14 L1396.42 1380.32 L1398.78 1380.5 L1401.14 1380.69 L1403.51 1380.89 L1405.87 1381.09 L1408.23 1381.31 L1410.59 1381.53 L1412.95 1381.75 L1415.32 1381.99 L1417.68 1382.24 L1420.04 1382.49 L1422.4 1382.75 L1424.76 1383.03 L1427.12 1383.31 L1429.48 1383.61 L1431.85 1383.91 L1434.21 1384.23 L1436.57 1384.56 L1438.93 1384.9 L1441.29 1385.25 L1443.65 1385.62 L1446.02 1386 L1448.38 1386.4 L1450.74 1386.8 L1453.1 1387.23 L1455.46 1387.67 L1457.83 1388.13 L1460.19 1388.6 L1462.55 1389.09 L1464.91 1389.6 L1467.27 1390.13 L1469.63 1390.68 L1471.99 1391.25 L1474.36 1391.84 L1476.72 1392.45 L1479.08 1393.08 L1481.44 1393.74 L1483.8 1394.42 L1486.16 1395.13 L1488.53 1395.87 L1490.89 1396.63 L1493.25 1397.42 L1495.61 1398.24 L1497.97 1399.09 L1500.34 1399.97 L1502.7 1400.89 L1505.06 1401.83 L1507.42 1402.82 L1509.78 1403.84 L1512.14 1404.9 L1514.5 1405.99 L1516.87 1407.13 L1519.23 1408.31 L1521.59 1409.54 L1523.95 1410.81 L1526.31 1412.13 L1528.67 1413.49 L1531.04 1414.91 L1533.4 1416.38 L1535.76 1417.91 L1538.12 1419.49 L1540.48 1421.13 L1542.85 1422.83 L1545.21 1424.6 L1547.57 1426.43 L1549.93 1428.33 L1552.29 1430.3 L1554.65 1432.34 L1557.01 1434.46 L1559.38 1436.65 L1561.74 1438.93 L1564.1 1441.3" fill="none" stroke="#000" stroke-width="5" stroke-linejoin="round" stroke-linecap="round"/>
<rect x="1273.2" y="1370.5" width="15" height="15" fill="#000"/>
<rect x="1372.1" y="1367.1" width="15" height="15" fill="#000"/>
<rect x="1415.1" y="1377.8" width="15" height="15" fill="#000"/>
<rect x="1471" y="1378.1" width="15" height="15" fill="#000"/>
<rect x="1482.7" y="1388.1" width="15" height="15" fill="#000"/>
<rect x="1508.9" y="1381.2" width="15" height="15" fill="#000"/>
<rect x="1514" y="1393.3" width="15" height="15" fill="#000"/>
<rect x="1527.8" y="1401.9" width="15" height="15" fill="#000"/>
<rect x="1541.7" y="1407" width="15" height="15" fill="#000"/>
<rect x="1557.1" y="1441.5" width="15" height="15" fill="#000"/>
<rect x="1551.9" y="1452.5" width="15" height="15" fill="#000"/>
<circle cx="1280.7" cy="1364.3" r="7.7" fill="#000"/>
<circle cx="1379.6" cy="1343.1" r="7.7" fill="#000"/>
<circle cx="1422.6" cy="1312.2" r="7.7" fill="#000"/>
<circle cx="1478.5" cy="1369" r="7.7" fill="#000"/>
<circle cx="1521.5" cy="1378.4" r="7.7" fill="#000"/>
<circle cx="1564.6" cy="1471.3" r="7.7" fill="#000"/>
<line x1="1324.5" y1="1213.7" x2="1363" y2="1213.7" stroke="#000" stroke-width="5.5" stroke-linecap="round"/>
<rect x="1336.6" y="1207.1" width="14.2" height="13.9" fill="#000"/>
<line x1="1332.8" y1="1258.6" x2="1371" y2="1258.6" stroke="#000" stroke-width="5.5" stroke-linecap="round"/>
<circle cx="1351.4" cy="1258.6" r="7.7" fill="#000"/>
<text transform="translate(1385.83,1223.1) scale(1.0070,1)" font-family="'Liberation Sans', Arial, sans-serif" font-weight="normal" font-size="30.98">MDA-MB-231 cells (+Paclitaxel)</text>
<text transform="translate(1393.73,1268.4) scale(1.0068,1)" font-family="'Liberation Sans', Arial, sans-serif" font-weight="normal" font-size="30.98">MDA-MB-231 cells (-Paclitaxel)</text>
</svg></body></html>
